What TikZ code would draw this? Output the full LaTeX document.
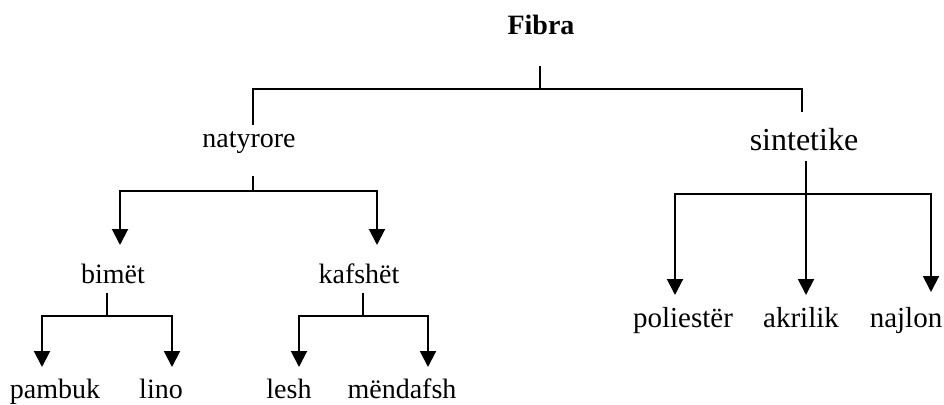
\documentclass[tikz,border=0pt]{standalone}
\usepackage{fontspec}
\setmainfont{Liberation Serif}
\usetikzlibrary{arrows.meta}

\begin{document}
\begin{tikzpicture}[x=1pt,y=-1pt,
    word_node/.style={anchor=base,inner sep=0pt,font=\fontsize{28}{32}\selectfont},
    line_edge/.style={line width=2pt},
    arrow_edge/.style={line width=2pt,-{Triangle[width=16pt,length=16pt]}}]

    \useasboundingbox (0,0) rectangle (944,404);

    % words
    \node[word_node,font=\bfseries\fontsize{28}{32}\selectfont] (fibra) at (541,35) {Fibra};
    \node[word_node] (natyrore) at (249,147) {natyrore};
    \node[word_node,font=\fontsize{32}{36}\selectfont] (sintetike) at (804,150) {sintetike};
    \node[word_node] (bimet) at (113,283) {bimët};
    \node[word_node] (kafshet) at (359,283) {kafshët};
    \node[word_node] (pambuk) at (55,398) {pambuk};
    \node[word_node] (lino) at (161,398) {lino};
    \node[word_node] (lesh) at (289,398) {lesh};
    \node[word_node] (mendafsh) at (402,398) {mëndafsh};
    \node[word_node,font=\fontsize{29}{33}\selectfont] (poliester) at (683,327) {poliestër};
    \node[word_node,font=\fontsize{29}{33}\selectfont] (akrilik) at (801,327) {akrilik};
    \node[word_node,font=\fontsize{29}{33}\selectfont] (najlon) at (906,327) {najlon};

    % line ends
    \coordinate (f1) at (540,66);
    \coordinate (f2) at (540,89);
    \coordinate (f3) at (253,125);
    \coordinate (f4) at (802,112);
    \coordinate (n1) at (253,176);
    \coordinate (n2) at (253,191);
    \coordinate (n3) at (120,245);
    \coordinate (n4) at (377,245);
    \coordinate (b1) at (107,293);
    \coordinate (b2) at (107,316);
    \coordinate (b3) at (42,367);
    \coordinate (b4) at (172,367);
    \coordinate (k1) at (363,293);
    \coordinate (k2) at (363,316);
    \coordinate (k3) at (299,367);
    \coordinate (k4) at (428,367);
    \coordinate (s1) at (806,161);
    \coordinate (s2) at (806,194);
    \coordinate (s3) at (675,295);
    \coordinate (s4) at (806,295);
    \coordinate (s5) at (931,292);

    \draw[line_edge] (f1) -- (f2);
    \draw[line_edge] (f3) |- (f2) -| (f4);
    \draw[line_edge] (n1) -- (n2);
    \draw[arrow_edge] (n2) -| (n3);
    \draw[arrow_edge] (n2) -| (n4);
    \draw[line_edge] (b1) -- (b2);
    \draw[arrow_edge] (b2) -| (b3);
    \draw[arrow_edge] (b2) -| (b4);
    \draw[line_edge] (k1) -- (k2);
    \draw[arrow_edge] (k2) -| (k3);
    \draw[arrow_edge] (k2) -| (k4);
    \draw[arrow_edge] (s1) -- (s4);
    \draw[arrow_edge] (s2) -| (s3);
    \draw[arrow_edge] (s2) -| (s5);
\end{tikzpicture}
\end{document}
